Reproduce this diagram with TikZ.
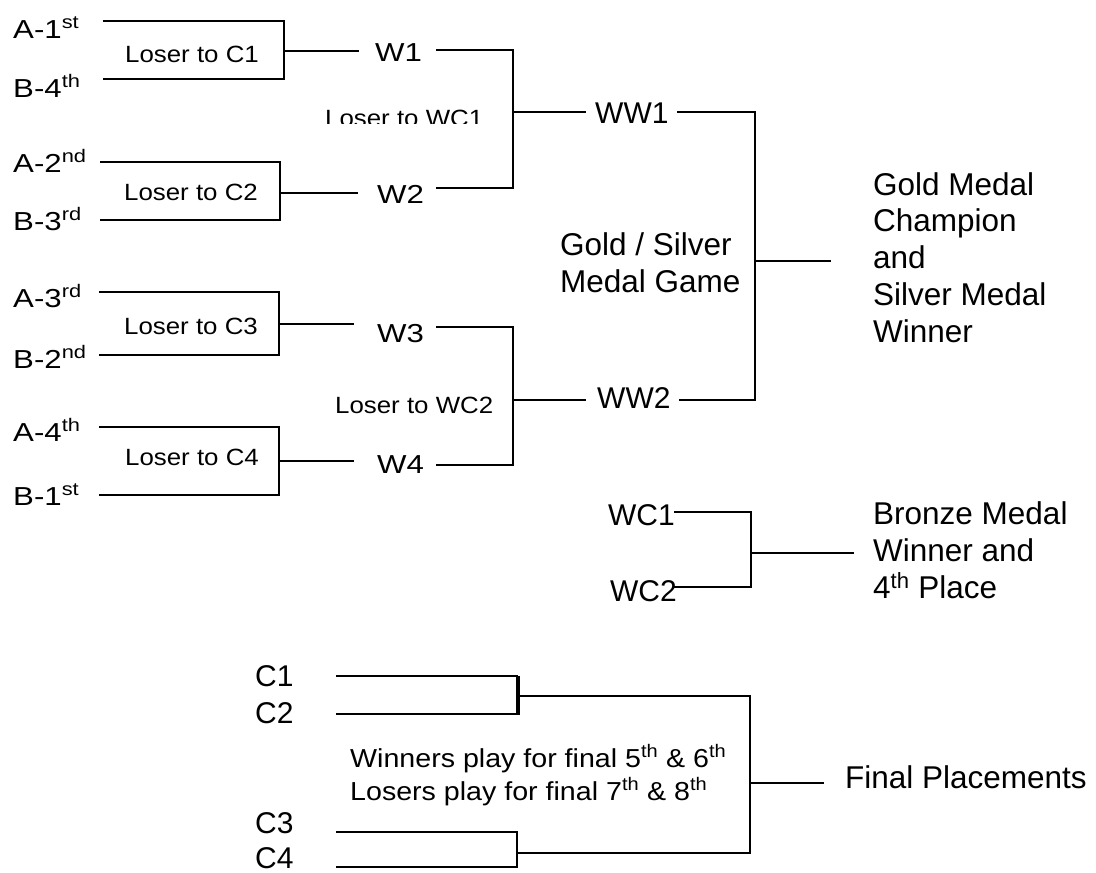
\documentclass[tikz,border=0pt]{standalone}
\usepackage{fontspec}
\setmainfont{Liberation Sans}
\newfontfamily\wideA[FakeStretch=1.2]{Liberation Sans}
\newfontfamily\wideB[FakeStretch=1.1]{Liberation Sans}
\newfontfamily\wideC[FakeStretch=1.1]{Liberation Sans}
\tikzset{
  lbl/.style={anchor=base west, inner sep=0pt, font=\wideA\fontsize{26}{26}\selectfont},
  loser/.style={anchor=base west, inner sep=0pt, font=\wideB\fontsize{23.5}{23.5}\selectfont},
  big/.style={anchor=base west, inner sep=0pt, font=\fontsize{31.5}{36.75}\selectfont, align=left},
  mid/.style={anchor=base west, inner sep=0pt, font=\fontsize{30}{30}\selectfont},
  note/.style={anchor=base west, inner sep=0pt, font=\wideC\fontsize{26}{33}\selectfont, align=left},
  ln/.style={line width=1.6pt, line cap=rect}
}
\begin{document}
\begin{tikzpicture}[x=1pt,y=-1pt]
\useasboundingbox (0,0) rectangle (1096,873);
% ---------- first round ----------
\node[lbl] (a1) at (13,38) {A-1\textsuperscript{st}};
\node[lbl] (b4) at (13,97) {B-4\textsuperscript{th}};
\node[lbl] (a2) at (13,172) {A-2\textsuperscript{nd}};
\node[lbl] (b3) at (13,230) {B-3\textsuperscript{rd}};
\node[lbl] (a3) at (13,307) {A-3\textsuperscript{rd}};
\node[lbl] (b2) at (13,368) {B-2\textsuperscript{nd}};
\node[lbl] (a4) at (13,441) {A-4\textsuperscript{th}};
\node[lbl] (b1) at (13,505) {B-1\textsuperscript{st}};
\node[loser] (l1) at (125,62) {Loser to C1};
\node[loser] (l2) at (124,200) {Loser to C2};
\node[loser] (l3) at (124,334) {Loser to C3};
\node[loser] (l4) at (125,465) {Loser to C4};
% match 1
\coordinate (a1s) at (104,21); \coordinate (a1e) at (284,21);
\coordinate (b4s) at (104,79); \coordinate (b4e) at (284,79);
\coordinate (m1) at (284,51); \coordinate (m1e) at (358,51);
\draw[ln] (a1s) -- (a1e) -- (b4e) -- (b4s);
\draw[ln] (m1) -- (m1e);
% match 2
\coordinate (a2s) at (101,162); \coordinate (a2e) at (280,162);
\coordinate (b3s) at (101,220); \coordinate (b3e) at (280,220);
\coordinate (m2) at (280,193); \coordinate (m2e) at (357,193);
\draw[ln] (a2s) -- (a2e) -- (b3e) -- (b3s);
\draw[ln] (m2) -- (m2e);
% match 3
\coordinate (a3s) at (100,292); \coordinate (a3e) at (279,292);
\coordinate (b2s) at (100,355); \coordinate (b2e) at (279,355);
\coordinate (m3) at (279,324); \coordinate (m3e) at (353,324);
\draw[ln] (a3s) -- (a3e) -- (b2e) -- (b2s);
\draw[ln] (m3) -- (m3e);
% match 4
\coordinate (a4s) at (100,427); \coordinate (a4e) at (279,427);
\coordinate (b1s) at (100,495); \coordinate (b1e) at (279,495);
\coordinate (m4) at (279,461); \coordinate (m4e) at (353,461);
\draw[ln] (a4s) -- (a4e) -- (b1e) -- (b1s);
\draw[ln] (m4) -- (m4e);
% ---------- second round ----------
\node[lbl] (w1) at (375,61) {W1};
\node[lbl] (w2) at (377,203) {W2};
\node[lbl] (w3) at (377,342) {W3};
\node[lbl] (w4) at (377,473) {W4};
\begin{scope}
\clip (300,95) rectangle (530,123);
\node[loser] (lw1) at (325,126) {Loser to WC1};
\end{scope}
\node[loser] (lw2) at (335,413) {Loser to WC2};
\coordinate (w1s) at (437,50); \coordinate (w1e) at (513,50);
\coordinate (w2s) at (437,188); \coordinate (w2e) at (513,188);
\coordinate (w3s) at (437,327); \coordinate (w3e) at (513,327);
\coordinate (w4s) at (437,465); \coordinate (w4e) at (513,465);
\draw[ln] (w1s) -- (w1e) -- (w2e) -- (w2s);
\draw[ln] (w3s) -- (w3e) -- (w4e) -- (w4s);
% ---------- final ----------
\node[mid] (ww1) at (595,123) {WW1};
\node[mid] (ww2) at (597,408) {WW2};
\coordinate (j1) at (513,112); \coordinate (ww1a) at (585,112);
\coordinate (ww1b) at (678,112); \coordinate (ww1c) at (755,112);
\coordinate (j2) at (513,400); \coordinate (ww2a) at (585,400);
\coordinate (ww2b) at (680,400); \coordinate (ww2c) at (755,400);
\coordinate (fj) at (755,261); \coordinate (fe) at (830,261);
\draw[ln] (j1) -- (ww1a);
\draw[ln] (j2) -- (ww2a);
\draw[ln] (ww1b) -- (ww1c) -- (ww2c) -- (ww2b);
\draw[ln] (fj) -- (fe);
\node[big] (gs) at (560,292) {Gold / Silver\\Medal Game};
\node[big] (gold) at (873,342) {Gold Medal\\Champion\\and\\Silver Medal\\Winner};
% ---------- bronze ----------
\node[mid, anchor=base east] (wc1) at (675,525) {WC1};
\node[mid, anchor=base east] (wc2) at (677,601) {WC2};
\coordinate (wc1s) at (675,512); \coordinate (wc1e) at (751,512);
\coordinate (wc2s) at (675,587); \coordinate (wc2e) at (751,587);
\coordinate (bj) at (751,553); \coordinate (be) at (853,553);
\draw[ln] (wc1s) -- (wc1e) -- (wc2e) -- (wc2s);
\draw[ln] (bj) -- (be);
\node[big] (bronze) at (873,598) {Bronze Medal\\Winner and\\4\textsuperscript{th} Place};
% ---------- consolation ----------
\node[mid] (c1) at (255,686) {C1};
\node[mid] (c2) at (255,723) {C2};
\node[mid] (c3) at (255,833) {C3};
\node[mid] (c4) at (255,868) {C4};
\coordinate (c1s) at (337,676); \coordinate (c1e) at (517,676);
\coordinate (c2s) at (337,714); \coordinate (c2e) at (517,714);
\coordinate (c3s) at (337,832); \coordinate (c3e) at (517,832);
\coordinate (c4s) at (337,867); \coordinate (c4e) at (517,867);
\draw[ln] (c1s) -- (c1e) -- (c2e) -- (c2s);
\draw[ln] (c3s) -- (c3e) -- (c4e) -- (c4s);
\coordinate (cj1) at (519,696); \coordinate (cj1e) at (750,696);
\coordinate (cj2) at (517,853); \coordinate (cj2e) at (750,853);
\coordinate (cf) at (750,783); \coordinate (cfe) at (823,783);
\draw[ln] (519,677) -- (519,714);
\draw[ln] (cj1) -- (cj1e) -- (cj2e) -- (cj2);
\draw[ln] (cf) -- (cfe);
\node[note] (win) at (350,800) {Winners play for final 5\textsuperscript{th} \& 6\textsuperscript{th}\\Losers play for final 7\textsuperscript{th} \& 8\textsuperscript{th}};
\node[big] (fp) at (845,788) {Final Placements};
\end{tikzpicture}
\end{document}
